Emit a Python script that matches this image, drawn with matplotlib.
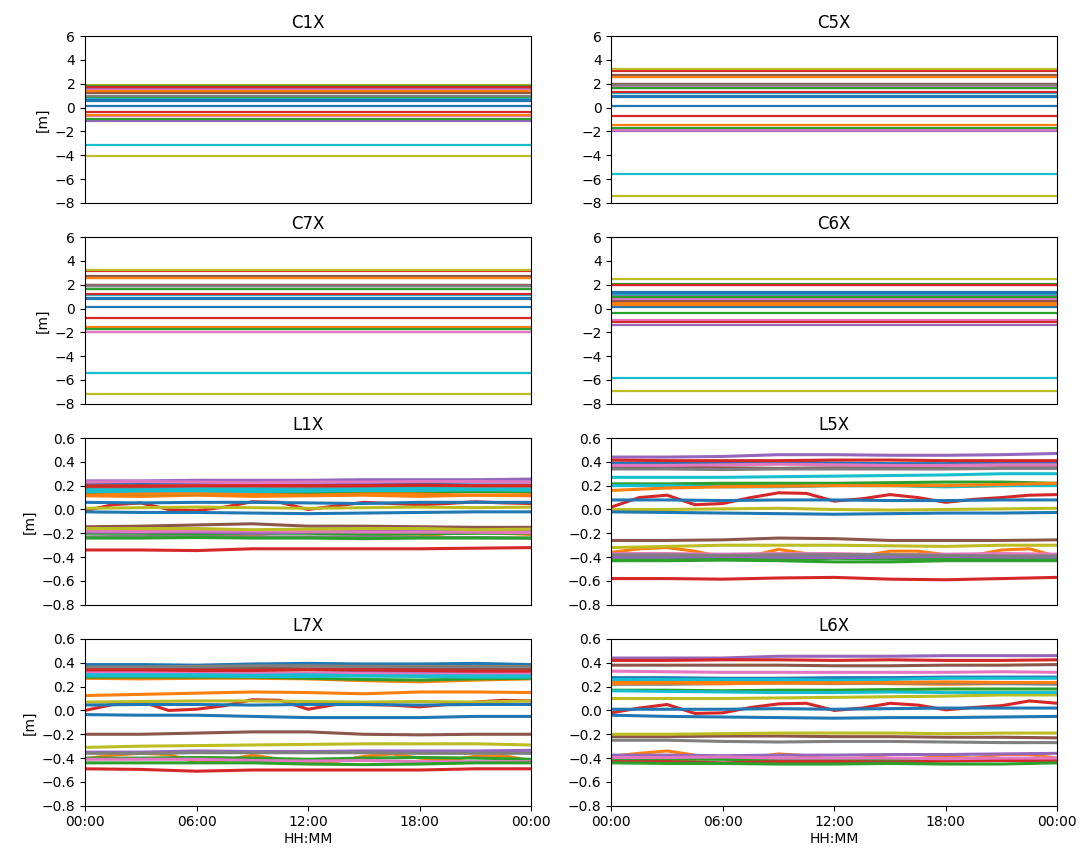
import matplotlib
matplotlib.use("Agg")
import matplotlib.pyplot as plt

# ---------------- data ----------------
HOURS = [0, 6, 12, 18, 24]
HOUR_LABELS = ["00:00", "06:00", "12:00", "18:00", "00:00"]
T_COARSE = [0, 3, 6, 9, 12, 15, 18, 21, 24]
T_FINE = [0, 1.5, 3, 4.5, 6, 7.5, 9, 10.5, 12, 13.5, 15, 16.5, 18, 19.5, 21, 22.5, 24]

# code biases (constant over the day), one value per satellite (24 satellites)
C1X = [0.1, 1.45, 0.85, 1.7, -1.15, 1.25, -0.7, 1.0, -4.1, -3.15, 0.55, -0.65,
       -0.95, -0.4, 1.6, 1.35, 1.5, 0.75, 1.9, 0.7, 0.6, 1.4, 1.85, 1.75]
C5X = [0.15, 2.55, 1.6, 3.1, -2.0, 2.75, -1.85, 1.95, -7.4, -5.6, 0.9, -1.5,
       -1.7, -0.7, 1.9, 2.0, 1.8, 1.9, 3.25, 1.2, 0.95, 2.6, 1.65, 1.3]
C7X = [0.1, 2.55, 1.6, 3.15, -1.95, 2.75, -2.0, 2.0, -7.2, -5.4, 0.85, -1.55,
       -1.75, -0.8, 1.85, 1.95, 1.85, 1.9, 3.25, 1.1, 0.8, 2.6, 1.65, 1.25]
C6X = [0.15, 0.3, -0.4, 2.0, -1.35, 0.9, -0.95, 0.7, -6.9, -5.8, 1.35, 0.45,
       2.05, -1.1, 1.1, 0.6, 0.8, 0.95, 2.5, 1.2, 1.3, 0.35, 1.0, 2.0]

# phase biases, values read every 3 h (wavy satellites every 1.5 h)
L1X = [
    [0.22, 0.22, 0.225, 0.23, 0.23, 0.225, 0.225, 0.23, 0.23],
    [0.115, 0.11, 0.12, 0.11, 0.115, 0.12, 0.11, 0.12, 0.115],
    [0.125, 0.13, 0.13, 0.135, 0.14, 0.145, 0.15, 0.15, 0.15],
    [-0.01, 0.04, 0.055, 0.0, -0.01, 0.02, 0.065, 0.06, 0.0, 0.03, 0.06, 0.05, 0.04, 0.05, 0.065, 0.055, 0.05],
    [0.24, 0.24, 0.245, 0.245, 0.245, 0.25, 0.25, 0.25, 0.255],
    [0.2, 0.2, 0.195, 0.2, 0.2, 0.2, 0.195, 0.2, 0.2],
    [0.23, 0.235, 0.23, 0.225, 0.23, 0.23, 0.235, 0.235, 0.23],
    [0.18, 0.18, 0.18, 0.175, 0.18, 0.18, 0.175, 0.175, 0.175],
    [0.01, 0.015, 0.02, 0.015, 0.01, 0.015, 0.02, 0.015, 0.02],
    [0.15, 0.15, 0.155, 0.15, 0.155, 0.16, 0.16, 0.165, 0.16],
    [0.06, 0.055, 0.06, 0.06, 0.055, 0.05, 0.06, 0.06, 0.06],
    [-0.19, -0.17, -0.165, -0.17, -0.2, -0.23, -0.22, -0.19, -0.18, -0.18, -0.19, -0.23, -0.23, -0.2, -0.19, -0.2, -0.21],
    [-0.2, -0.2, -0.21, -0.2, -0.2, -0.21, -0.205, -0.2, -0.2],
    [-0.34, -0.34, -0.345, -0.33, -0.33, -0.33, -0.33, -0.325, -0.32],
    [-0.19, -0.19, -0.19, -0.2, -0.19, -0.18, -0.18, -0.18, -0.185],
    [-0.145, -0.14, -0.13, -0.12, -0.14, -0.14, -0.145, -0.15, -0.15],
    [-0.18, -0.185, -0.18, -0.18, -0.185, -0.19, -0.19, -0.19, -0.195],
    [-0.23, -0.225, -0.23, -0.23, -0.23, -0.23, -0.235, -0.235, -0.24],
    [-0.16, -0.16, -0.16, -0.17, -0.165, -0.16, -0.16, -0.17, -0.165],
    [0.165, 0.165, 0.17, 0.17, 0.165, 0.17, 0.175, 0.17, 0.17],
    [-0.02, -0.025, -0.025, -0.03, -0.035, -0.03, -0.025, -0.02, -0.02],
    [0.12, 0.13, 0.13, 0.125, 0.12, 0.13, 0.13, 0.12, 0.125],
    [-0.24, -0.24, -0.235, -0.24, -0.24, -0.245, -0.24, -0.24, -0.24],
    [0.195, 0.195, 0.2, 0.2, 0.2, 0.2, 0.205, 0.2, 0.2],
]
L5X = [
    [0.39, 0.39, 0.39, 0.395, 0.39, 0.385, 0.385, 0.39, 0.39],
    [0.21, 0.205, 0.2, 0.21, 0.21, 0.205, 0.195, 0.2, 0.205],
    [0.215, 0.215, 0.22, 0.22, 0.22, 0.225, 0.23, 0.23, 0.22],
    [0.02, 0.1, 0.12, 0.04, 0.05, 0.1, 0.14, 0.135, 0.07, 0.09, 0.125, 0.1, 0.06, 0.085, 0.1, 0.12, 0.125],
    [0.44, 0.44, 0.445, 0.46, 0.46, 0.455, 0.455, 0.46, 0.47],
    [0.355, 0.355, 0.35, 0.345, 0.35, 0.35, 0.345, 0.35, 0.35],
    [0.37, 0.37, 0.375, 0.38, 0.375, 0.37, 0.37, 0.375, 0.375],
    [0.34, 0.34, 0.335, 0.34, 0.34, 0.34, 0.34, 0.345, 0.345],
    [0.0, 0.0, 0.005, 0.01, 0.0, -0.005, 0.0, 0.005, 0.01],
    [0.27, 0.27, 0.27, 0.275, 0.28, 0.285, 0.29, 0.3, 0.3],
    [0.08, 0.08, 0.075, 0.08, 0.08, 0.075, 0.075, 0.08, 0.08],
    [-0.36, -0.33, -0.32, -0.35, -0.4, -0.39, -0.335, -0.37, -0.395, -0.39, -0.35, -0.35, -0.38, -0.385, -0.34, -0.33, -0.395],
    [-0.41, -0.41, -0.415, -0.42, -0.41, -0.415, -0.42, -0.415, -0.41],
    [-0.58, -0.58, -0.585, -0.575, -0.57, -0.585, -0.59, -0.58, -0.57],
    [-0.4, -0.4, -0.395, -0.4, -0.405, -0.4, -0.395, -0.4, -0.4],
    [-0.26, -0.26, -0.255, -0.24, -0.245, -0.26, -0.26, -0.26, -0.255],
    [-0.37, -0.37, -0.375, -0.37, -0.37, -0.38, -0.375, -0.37, -0.375],
    [-0.38, -0.38, -0.385, -0.38, -0.38, -0.38, -0.385, -0.39, -0.39],
    [-0.32, -0.31, -0.3, -0.3, -0.3, -0.305, -0.31, -0.3, -0.3],
    [0.2, 0.2, 0.19, 0.19, 0.2, 0.2, 0.19, 0.2, 0.2],
    [-0.02, -0.025, -0.03, -0.035, -0.04, -0.035, -0.03, -0.03, -0.025],
    [0.16, 0.18, 0.19, 0.195, 0.2, 0.2, 0.2, 0.21, 0.22],
    [-0.43, -0.43, -0.425, -0.43, -0.44, -0.44, -0.43, -0.43, -0.43],
    [0.415, 0.41, 0.41, 0.41, 0.415, 0.415, 0.41, 0.41, 0.41],
]
L7X = [
    [0.385, 0.385, 0.38, 0.39, 0.395, 0.39, 0.39, 0.395, 0.385],
    [0.27, 0.265, 0.27, 0.27, 0.265, 0.25, 0.24, 0.255, 0.265],
    [0.28, 0.28, 0.28, 0.28, 0.27, 0.26, 0.255, 0.265, 0.27],
    [0.0, 0.05, 0.075, 0.0, 0.01, 0.04, 0.09, 0.085, 0.01, 0.05, 0.05, 0.045, 0.03, 0.05, 0.07, 0.085, 0.08],
    [0.31, 0.31, 0.31, 0.31, 0.31, 0.32, 0.32, 0.325, 0.33],
    [0.35, 0.35, 0.35, 0.355, 0.35, 0.35, 0.35, 0.35, 0.345],
    [0.32, 0.32, 0.315, 0.31, 0.31, 0.31, 0.305, 0.305, 0.31],
    [0.365, 0.365, 0.37, 0.375, 0.375, 0.37, 0.37, 0.37, 0.37],
    [0.07, 0.075, 0.08, 0.08, 0.075, 0.07, 0.075, 0.07, 0.08],
    [0.29, 0.29, 0.29, 0.285, 0.285, 0.29, 0.29, 0.29, 0.29],
    [0.045, 0.05, 0.05, 0.045, 0.05, 0.05, 0.045, 0.05, 0.05],
    [-0.405, -0.375, -0.36, -0.37, -0.435, -0.42, -0.375, -0.41, -0.445, -0.43, -0.385, -0.365, -0.4, -0.42, -0.385, -0.38, -0.42],
    [-0.4, -0.4, -0.395, -0.4, -0.41, -0.4, -0.395, -0.4, -0.41],
    [-0.49, -0.495, -0.51, -0.5, -0.5, -0.5, -0.5, -0.49, -0.49],
    [-0.35, -0.35, -0.34, -0.345, -0.345, -0.34, -0.34, -0.34, -0.335],
    [-0.2, -0.2, -0.19, -0.18, -0.18, -0.2, -0.205, -0.2, -0.2],
    [-0.41, -0.41, -0.41, -0.42, -0.425, -0.42, -0.43, -0.43, -0.43],
    [-0.36, -0.36, -0.355, -0.355, -0.355, -0.355, -0.36, -0.36, -0.36],
    [-0.31, -0.3, -0.295, -0.29, -0.285, -0.28, -0.28, -0.28, -0.29],
    [0.3, 0.3, 0.3, 0.295, 0.3, 0.29, 0.285, 0.28, 0.28],
    [-0.035, -0.04, -0.04, -0.05, -0.06, -0.06, -0.06, -0.05, -0.05],
    [0.125, 0.135, 0.145, 0.155, 0.15, 0.14, 0.155, 0.155, 0.15],
    [-0.44, -0.44, -0.44, -0.44, -0.45, -0.455, -0.45, -0.44, -0.44],
    [0.34, 0.34, 0.335, 0.335, 0.34, 0.34, 0.335, 0.33, 0.33],
]
L6X = [
    [0.275, 0.275, 0.27, 0.27, 0.275, 0.275, 0.28, 0.28, 0.28],
    [0.24, 0.235, 0.24, 0.245, 0.235, 0.225, 0.22, 0.225, 0.23],
    [0.17, 0.17, 0.165, 0.17, 0.17, 0.175, 0.18, 0.18, 0.18],
    [-0.02, 0.02, 0.05, -0.025, -0.02, 0.025, 0.055, 0.06, 0.0, 0.02, 0.06, 0.045, 0.005, 0.025, 0.04, 0.08, 0.06],
    [0.44, 0.44, 0.44, 0.455, 0.455, 0.455, 0.46, 0.46, 0.46],
    [0.38, 0.38, 0.38, 0.38, 0.375, 0.375, 0.38, 0.38, 0.385],
    [0.33, 0.325, 0.32, 0.32, 0.32, 0.32, 0.32, 0.325, 0.32],
    [0.22, 0.22, 0.225, 0.23, 0.225, 0.23, 0.23, 0.225, 0.22],
    [0.1, 0.1, 0.1, 0.105, 0.11, 0.115, 0.12, 0.13, 0.13],
    [0.26, 0.26, 0.26, 0.26, 0.255, 0.26, 0.27, 0.27, 0.27],
    [0.01, 0.01, 0.01, 0.015, 0.01, 0.015, 0.02, 0.02, 0.02],
    [-0.385, -0.36, -0.34, -0.375, -0.4, -0.395, -0.365, -0.38, -0.415, -0.4, -0.37, -0.37, -0.39, -0.4, -0.37, -0.37, -0.4],
    [-0.41, -0.41, -0.41, -0.42, -0.42, -0.415, -0.41, -0.41, -0.41],
    [-0.43, -0.43, -0.44, -0.43, -0.43, -0.435, -0.425, -0.42, -0.42],
    [-0.375, -0.375, -0.38, -0.375, -0.375, -0.37, -0.37, -0.365, -0.36],
    [-0.22, -0.22, -0.215, -0.215, -0.22, -0.22, -0.225, -0.225, -0.23],
    [-0.395, -0.395, -0.39, -0.4, -0.4, -0.4, -0.405, -0.4, -0.4],
    [-0.25, -0.25, -0.26, -0.265, -0.26, -0.26, -0.265, -0.27, -0.27],
    [-0.2, -0.2, -0.195, -0.19, -0.19, -0.19, -0.195, -0.19, -0.19],
    [0.165, 0.16, 0.155, 0.15, 0.15, 0.155, 0.15, 0.15, 0.15],
    [-0.04, -0.05, -0.055, -0.06, -0.065, -0.06, -0.06, -0.055, -0.05],
    [0.225, 0.23, 0.225, 0.23, 0.23, 0.235, 0.24, 0.235, 0.235],
    [-0.44, -0.445, -0.445, -0.45, -0.45, -0.445, -0.45, -0.45, -0.44],
    [0.42, 0.42, 0.425, 0.425, 0.42, 0.425, 0.42, 0.42, 0.425],
]

# ---------------- figure ----------------
fig, axes = plt.subplots(4, 2, figsize=(10.9, 8.59), dpi=100, sharex=True)
fig.subplots_adjust(left=0.078, right=0.970, top=0.958, bottom=0.062,
                    wspace=0.18, hspace=0.205)

panels = [
    (axes[0, 0], "C1X", C1X), (axes[0, 1], "C5X", C5X),
    (axes[1, 0], "C7X", C7X), (axes[1, 1], "C6X", C6X),
    (axes[2, 0], "L1X", L1X), (axes[2, 1], "L5X", L5X),
    (axes[3, 0], "L7X", L7X), (axes[3, 1], "L6X", L6X),
]

for ax, title, data in panels:
    if title.startswith("C"):
        for v in data:
            ax.plot([HOURS[0], HOURS[-1]], [v, v], lw=1.6)
        ax.set_ylim(-8, 6)
        ax.set_yticks(range(-8, 7, 2))
    else:
        for vals in data:
            t = T_FINE if len(vals) == len(T_FINE) else T_COARSE
            ax.plot(t, vals, lw=2.2)
        ax.set_ylim(-0.8, 0.6)
        ax.set_yticks([-0.8, -0.6, -0.4, -0.2, 0.0, 0.2, 0.4, 0.6])
    ax.set_title(title, fontsize=12)
    ax.set_xlim(HOURS[0], HOURS[-1])

for ax in axes[:, 0]:
    ax.set_ylabel("[m]")

axes[3, 0].set_xticks(HOURS)
axes[3, 0].set_xticklabels(HOUR_LABELS)
for ax in axes[:3, :].ravel():
    ax.tick_params(axis="x", bottom=False, labelbottom=False)
for ax in axes[3, :]:
    ax.set_xlabel("HH:MM", labelpad=2)

fig.savefig("out.png", dpi=100)
